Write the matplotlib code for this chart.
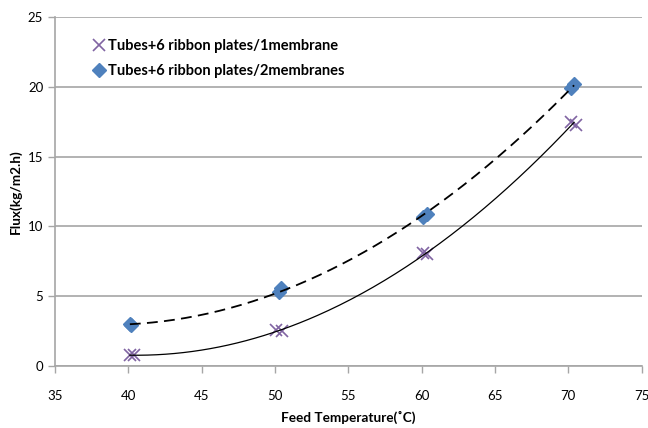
import numpy as np
import matplotlib.pyplot as plt

plt.rcParams['font.family'] = ['Lato', 'DejaVu Sans']

# Tubes+6 ribbon plates/1membrane
temp_1m = [40.1, 40.4, 50.1, 50.5, 60.1, 60.4, 70.2, 70.5]
flux_1m = [0.8, 0.75, 2.55, 2.5, 8.1, 8.0, 17.5, 17.3]

# Tubes+6 ribbon plates/2membranes
temp_2m = [40.1, 40.2, 50.3, 50.4, 60.1, 60.4, 70.2, 70.4]
flux_2m = [3.0, 2.9, 5.3, 5.6, 10.7, 10.9, 19.9, 20.2]

purple = '#8064A2'
blue = '#4F81BD'

fig = plt.figure(figsize=(6.48, 4.28), dpi=100)
ax = fig.add_axes([0.085, 0.145, 0.905, 0.815])

ax.plot(temp_1m, flux_1m, 'x', color=purple, markersize=9, markeredgewidth=1.2,
        label='Tubes+6 ribbon plates/1membrane', zorder=3)
ax.plot(temp_2m, flux_2m, 'D', color=blue, markersize=7,
        label='Tubes+6 ribbon plates/2membranes', zorder=3)

# second order polynomial trend lines (like the spreadsheet)
xs = np.linspace(40.1, 70.4, 200)
p1 = np.polyfit(temp_1m, flux_1m, 2)
p2 = np.polyfit(temp_2m, flux_2m, 2)
ax.plot(xs, np.polyval(p1, xs), color='black', linewidth=0.9, zorder=4)
ax.plot(xs, np.polyval(p2, xs), color='black', linewidth=1.3, dashes=(6, 3.5), zorder=4)

ax.set_xlim(35, 75)
ax.set_ylim(0, 25)
ax.set_xticks(range(35, 80, 5))
ax.set_yticks(range(0, 30, 5))
ax.yaxis.grid(True, color='#A6A6A6', linewidth=1.2)
ax.set_axisbelow(True)

for s in ['top', 'right']:
    ax.spines[s].set_visible(False)
for s in ['left', 'bottom']:
    ax.spines[s].set_color('#A6A6A6')
    ax.spines[s].set_linewidth(1.2)
ax.tick_params(colors='#A6A6A6', labelcolor='black', labelsize=9.5, length=5, width=1)
ax.tick_params(axis='x', pad=12)

ax.set_xlabel('Feed Temperature(˚C)', fontsize=9.8, fontweight='bold', labelpad=7)
ax.set_ylabel('Flux(kg/m2.h)', fontsize=9.8, fontweight='bold', labelpad=4)

ax.legend(loc='upper left', bbox_to_anchor=(0.04, 0.975), frameon=False,
          prop={'weight': 'bold', 'size': 10.5}, handletextpad=0.1,
          handlelength=1.0, labelspacing=0.75)

plt.savefig('out.png')
